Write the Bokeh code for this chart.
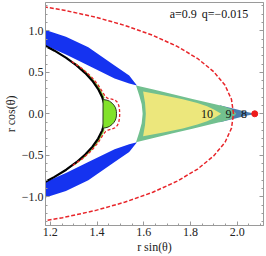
import numpy as np
from bokeh.plotting import figure
from bokeh.models import Range1d, LinearAxis, FixedTicker, CustomJSTickFormatter, PrintfTickFormatter
from bokeh.core.properties import value
from bokeh.embed import file_html
from bokeh.resources import INLINE

# ---- parameters / read values ----
spin_label = "a=0.9"
q_label = "q=\u22120.015"
horizon_r = 1.436
horizon_lat = [-40, -36, -32, -28, -24, -20, -16, -12, -8, -4, 0, 4, 8, 12, 16, 20, 24, 28, 32, 36, 40]

ergo_lat = [-62, -60, -55, -50, -45, -40, -35, -30, -25, -20, -15, -10, -5, 0,
            5, 10, 15, 20, 25, 30, 35, 40, 45, 50, 55, 60, 62]
ergo_r = [1.607, 1.627, 1.676, 1.724, 1.771, 1.816, 1.856, 1.892, 1.923, 1.948, 1.966, 1.978, 1.983, 1.984,
          1.983, 1.978, 1.966, 1.948, 1.923, 1.892, 1.856, 1.816, 1.771, 1.724, 1.676, 1.627, 1.607]

# upper blue crescent (lower one is its mirror image)
blue_x = [1.150, 1.1667, 1.1792, 1.2667, 1.3625, 1.475, 1.5375, 1.5708,
          1.5375, 1.475, 1.3625, 1.2667, 1.1792, 1.1667, 1.150]
blue_y = [1.060, 1.0408, 1.0108, 0.9304, 0.8019, 0.5822, 0.4622, 0.3421,
          0.3661, 0.4262, 0.5822, 0.7143, 0.8223, 0.8403, 0.860]

# teal region (l = 9)
teal_x = [1.5667, 1.6417, 1.725, 1.8083, 1.8917, 1.9417, 1.975, 1.9958,
          1.975, 1.9417, 1.8917, 1.8083, 1.725, 1.6417, 1.5667,
          1.5805, 1.591, 1.5951, 1.591, 1.5805]
teal_y = [0.3421, 0.2917, 0.2353, 0.1789, 0.1236, 0.09, 0.0588, 0.0,
          -0.0588, -0.09, -0.1236, -0.1789, -0.2353, -0.2917, -0.3421,
          -0.222, -0.114, 0.0, 0.114, 0.222]

# yellow region (l = 10)
yellow_x = [1.597, 1.6833, 1.7667, 1.8292, 1.8708, 1.9, 1.9315,
            1.9, 1.8708, 1.8292, 1.7667, 1.6833, 1.597, 1.6053, 1.6087, 1.6053]
yellow_y = [0.2697, 0.2241, 0.1761, 0.1304, 0.091, 0.053, 0.0,
            -0.053, -0.091, -0.1304, -0.1761, -0.2241, -0.2697, -0.134, 0.0, 0.134]

# blue wedge near the cusp (l = 8)
wedge_x = [1.925, 1.9958, 2.0375, 2.0667, 2.0792, 2.0667, 2.0375, 1.9958, 1.925]
wedge_y = [0.1032, 0.054, 0.024, 0.0072, 0.0, -0.0072, -0.024, -0.054, -0.1032]

# inner red dashed curve hugging the horizon
inner_x = [1.2916, 1.3379, 1.3752, 1.404, 1.426, 1.436, 1.447, 1.463, 1.477, 1.487, 1.493, 1.496, 1.497,
           1.496, 1.493, 1.487, 1.477, 1.463, 1.447, 1.436, 1.426, 1.404, 1.3752, 1.3379, 1.2916]
inner_y = [0.63, 0.5406, 0.4468, 0.3501, 0.2514, 0.205, 0.185, 0.178, 0.165, 0.14, 0.1, 0.05, 0.0,
           -0.05, -0.1, -0.14, -0.168, -0.185, -0.197, -0.215, -0.2514, -0.3501, -0.4468, -0.5406, -0.63]

# thin green strip just outside the horizon (lat, r)
strip_lat = [25, 21, 17, 13, 9, 7.5]
strip_r = [1.4405, 1.4415, 1.442, 1.442, 1.442, 1.442]

# green lobe on the equator (lat, r)
lobe_lat = [6.9, 6.5, 6, 5, 4, 3, 2, 1, 0, -1, -2, -3, -4, -5, -6, -6.5, -7.0]
lobe_r = [1.436, 1.452, 1.461, 1.470, 1.476, 1.480, 1.482, 1.483, 1.483,
          1.483, 1.482, 1.480, 1.476, 1.470, 1.461, 1.452, 1.436]

cusp_x = [2.075]
cusp_y = [0.0]

contour_labels = ["10", "9", "8"]
contour_label_x = [1.8708, 1.9625, 2.0292]
contour_label_y = [0.0, 0.0, 0.0]

x_ticks = [1.2, 1.4, 1.6, 1.8, 2.0]
x_minor = [1.15, 1.25, 1.3, 1.35, 1.45, 1.5, 1.55, 1.65, 1.7, 1.75, 1.85, 1.9, 1.95, 2.05, 2.1]
y_ticks = [-1.0, -0.5, 0.0, 0.5, 1.0]
y_minor = [-1.3, -1.2, -1.1, -0.9, -0.8, -0.7, -0.6, -0.4, -0.3, -0.2, -0.1,
           0.1, 0.2, 0.3, 0.4, 0.6, 0.7, 0.8, 0.9, 1.1, 1.2, 1.3]
y_tick_text = {-1.0: "\u22121.0", -0.5: "\u22120.5", 0.0: "0.0", 0.5: "0.5", 1.0: "1.0"}


def polar(lat, r):
    t = np.radians(np.asarray(lat, dtype=float))
    r = np.asarray(r, dtype=float)
    return r * np.cos(t), r * np.sin(t)


SERIF = "Liberation Serif"
GRAY = "#9a9a9a"

p = figure(width=266, height=256, x_range=Range1d(1.1792, 2.1125), y_range=Range1d(-1.347, 1.342),
           output_backend="svg", toolbar_location=None,
           min_border_left=39, min_border_right=3, min_border_top=2, min_border_bottom=30)
p.grid.visible = False
p.outline_line_color = GRAY
p.background_fill_color = "white"

# regions
p.patch(blue_x, blue_y, fill_color="#1533f0", line_color=None)
p.patch(blue_x, [-v for v in blue_y], fill_color="#1533f0", line_color=None)
p.patch(wedge_x, wedge_y, fill_color="#4a7db0", line_color=None)
p.patch(teal_x, teal_y, fill_color="#72c08f", line_color=None)
p.patch(yellow_x, yellow_y, fill_color="#ece77c", line_color=None)

# outer ergosurface
ex, ey = polar(ergo_lat, ergo_r)
p.line(ex, ey, line_color="#e8252a", line_width=1.5, line_dash="4 2")

# thin strip next to horizon
sx, sy = polar(strip_lat, strip_r)
p.line(sx, sy, line_color="#86d13c", line_width=1.5)
p.line(sx, -sy, line_color="#86d13c", line_width=1.5)

# horizon
hx, hy = polar(horizon_lat, [horizon_r] * len(horizon_lat))
p.line(hx, hy, line_color="black", line_width=2.2)

# green lobe
lx, ly = polar(lobe_lat, lobe_r)
p.patch(lx, ly, fill_color="#82e22a", line_color="#2b3a20", line_width=1)

# inner dashed curve
p.line(inner_x, inner_y, line_color="#e8252a", line_width=1.3, line_dash="3 2")

# cusp point
p.scatter(cusp_x, cusp_y, size=6, fill_color="#ee1c1c", line_color="#ee1c1c")

# contour labels
p.text(contour_label_x, contour_label_y, text=contour_labels, text_font=value(SERIF),
       text_font_size="12px", text_align="center", text_baseline="middle", text_color="#111111")

# parameter annotation
p.text([1.7688, 1.9479], [1.204, 1.204], text=[spin_label, q_label], text_font=value(SERIF),
       text_font_size="12px", text_align="center", text_baseline="middle", text_color="#111111")

# axes styling
xt = FixedTicker(ticks=x_ticks, minor_ticks=x_minor)
yt = FixedTicker(ticks=y_ticks, minor_ticks=y_minor)
for ax in p.xaxis:
    ax.ticker = xt
    ax.formatter = PrintfTickFormatter(format="%.1f")
    ax.axis_label = "r sin(\u03b8)"
    ax.major_label_standoff = 2
    ax.axis_label_standoff = 1
for ax in p.yaxis:
    ax.ticker = yt
    ax.axis_label = "r cos(\u03b8)"
    ax.major_label_overrides = y_tick_text
    ax.major_label_standoff = 2
    ax.axis_label_standoff = 1
for ax in list(p.xaxis) + list(p.yaxis):
    ax.axis_line_color = GRAY
    ax.major_tick_line_color = GRAY
    ax.minor_tick_line_color = GRAY
    ax.major_tick_in = 4
    ax.major_tick_out = 0
    ax.minor_tick_in = 2
    ax.minor_tick_out = 0
    ax.major_label_text_font = SERIF
    ax.major_label_text_font_size = "12px"
    ax.major_label_text_color = "#222222"
    ax.axis_label_text_font = SERIF
    ax.axis_label_text_font_size = "12px"
    ax.axis_label_text_font_style = "normal"
    ax.axis_label_text_color = "#222222"

blank = CustomJSTickFormatter(code="return ''")
rax = LinearAxis(ticker=yt, formatter=blank, axis_line_color=GRAY,
                 major_tick_line_color=GRAY, minor_tick_line_color=GRAY,
                 major_tick_in=4, major_tick_out=0, minor_tick_in=2, minor_tick_out=0,
                 major_label_standoff=0, major_label_text_font_size="1px")
p.add_layout(rax, "right")

open("out.html", "w").write(file_html(p, INLINE))
